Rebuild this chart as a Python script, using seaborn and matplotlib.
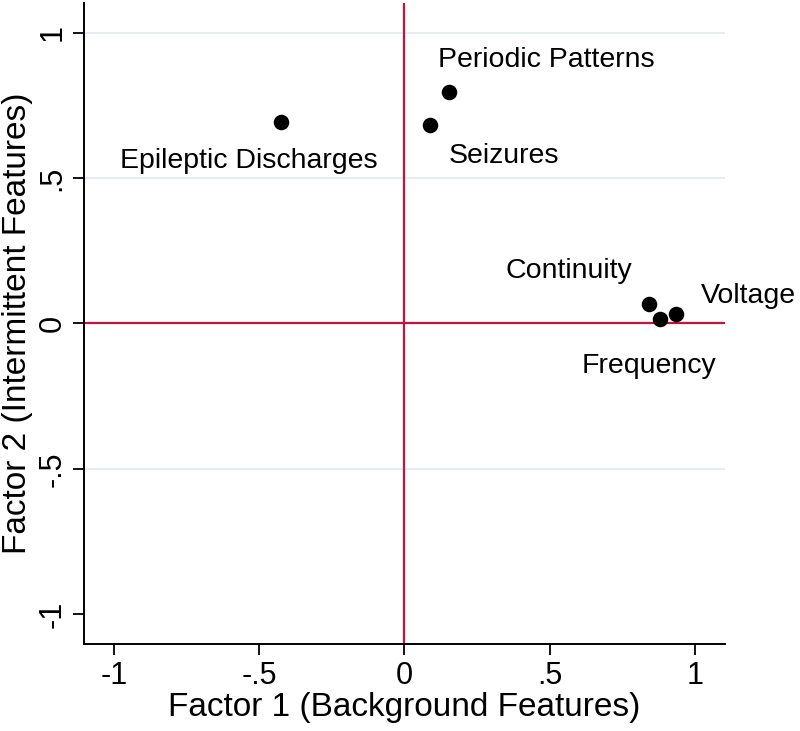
import matplotlib
matplotlib.use("Agg")
import matplotlib.pyplot as plt
import seaborn as sns
import pandas as pd

# factor loadings
features = ["Epileptic Discharges", "Periodic Patterns", "Seizures",
            "Continuity", "Frequency", "Voltage"]
factor1 = [-0.426, 0.155, 0.089, 0.842, 0.880, 0.935]
factor2 = [0.693, 0.797, 0.683, 0.066, 0.017, 0.034]

# label offsets (points) so text sits where the original put it
label_offsets = [(-23, -28), (70, 23), (53, -22), (-58, 24), (-8, -34), (52, 13)]

tick_vals = [-1, -0.5, 0, 0.5, 1]
tick_labels = ["-1", "-.5", "0", ".5", "1"]

def main():
    sns.set_style("white")
    plt.rcParams["font.family"] = ["Liberation Sans", "DejaVu Sans"]
    plt.rcParams["text.color"] = "black"
    plt.rcParams["axes.labelcolor"] = "black"
    plt.rcParams["xtick.color"] = "black"
    plt.rcParams["ytick.color"] = "black"

    df = pd.DataFrame({"f1": factor1, "f2": factor2, "name": features})

    fig = plt.figure(figsize=(8, 7.31), dpi=100)
    ax = fig.add_axes([0.105, 0.119, 0.801, 0.877])

    # light horizontal grid, red reference lines at zero
    for g in [1, 0.5, -0.5]:
        ax.axhline(g, color="#e3ebf1", lw=1.3, zorder=0)
    ax.axhline(0, color="#c4143c", lw=1.6, zorder=1)
    ax.axvline(0, color="#c4143c", lw=1.6, zorder=1)

    sns.scatterplot(data=df, x="f1", y="f2", color="black", s=125,
                    edgecolor="black", linewidth=0, ax=ax, zorder=3)

    for (x, y, name), (dx, dy) in zip(zip(factor1, factor2, features), label_offsets):
        ax.annotate(name, (x, y), xytext=(dx, dy), textcoords="offset points",
                    ha="center", va="center", fontsize=20.5, color="black")

    ax.set_xlim(-1.103, 1.103)
    ax.set_ylim(-1.103, 1.103)
    ax.set_xticks(tick_vals)
    ax.set_xticklabels(tick_labels, fontsize=22)
    ax.set_yticks(tick_vals)
    ax.set_yticklabels(tick_labels, fontsize=22, rotation=90, va="center")
    ax.tick_params(axis="both", direction="out", length=8, width=1.3,
                   color="black", left=True, bottom=True, pad=4)

    ax.set_xlabel("Factor 1 (Background Features)", fontsize=24, labelpad=1)
    ax.set_ylabel("Factor 2 (Intermittent Features)", fontsize=24, labelpad=3)

    sns.despine(ax=ax)
    for side in ["left", "bottom"]:
        ax.spines[side].set_color("black")
        ax.spines[side].set_linewidth(1.4)

    fig.savefig("out.png", dpi=100)

if __name__ == "__main__":
    main()
